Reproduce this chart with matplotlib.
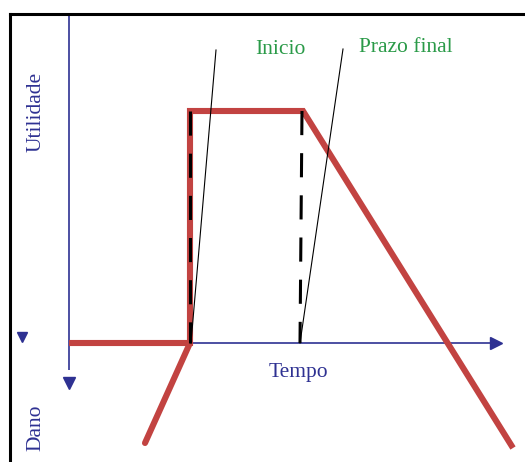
import matplotlib
matplotlib.use("Agg")
from matplotlib import pyplot as plt
from matplotlib.lines import Line2D

# schematic values (time, utility) with origin where the axes cross
curve_t = [0, 121, 121, 234, 444]
curve_u = [0, 0, 232, 232, -105]
damage_t = [121, 76]
damage_u = [0, -100]

start_t = [121, 121]
start_u = [232, 0]
deadline_t = [233, 231]
deadline_u = [232, 0]

inicio_ptr_t = [147, 122]
inicio_ptr_u = [293, 0]
prazo_ptr_t = [274, 231]
prazo_ptr_u = [294, 0]

labels = {"inicio": "Inicio", "prazo": "Prazo final", "tempo": "Tempo",
          "util": "Utilidade", "dano": "Dano"}

RED = "#c24341"
NAVY = "#2e3192"
GREEN = "#2a9a48"

fig = plt.figure(figsize=(5.25, 4.62), dpi=100)
ax = fig.add_axes([0, 0, 1, 1])
ax.set_xlim(-69, 456)
ax.set_ylim(-119, 343)
ax.axis("off")

font = dict(family=["Liberation Serif", "DejaVu Serif"], fontsize=15.5)

# frame (only left and top edges visible)
fig.add_artist(Line2D([10 / 525, 10 / 525], [0, 1 - 14 / 462], color="black", lw=2.2))
fig.add_artist(Line2D([10 / 525, 1], [1 - 14 / 462, 1 - 14 / 462], color="black", lw=2.2))

# axes
ax.plot([0, 0], [328, -27], color=NAVY, lw=1.2, solid_capstyle="butt")
ax.plot([0], [-40], marker="v", color=NAVY, ms=8)
ax.plot([0, 426], [0, 0], color=NAVY, lw=1.2, solid_capstyle="butt")
ax.plot([427], [0], marker=">", color=NAVY, ms=8)
ax.plot([-47], [6], marker="v", color=NAVY, ms=7)

# utility curve
ax.plot(curve_t, curve_u, color=RED, lw=4.4, solid_joinstyle="miter",
        solid_capstyle="butt", zorder=3)
ax.plot(damage_t, damage_u, color=RED, lw=4.4, solid_capstyle="round", zorder=3)

# dashed markers for start and deadline
dash = (0, (7.9, 5.9))
ax.plot(start_t, start_u, color="black", lw=2.2, ls=dash, zorder=4)
ax.plot(deadline_t, deadline_u, color="black", lw=2.2, ls=dash, zorder=4)

# pointer lines
ax.plot(inicio_ptr_t, inicio_ptr_u, color="black", lw=0.8, zorder=5)
ax.plot(prazo_ptr_t, prazo_ptr_u, color="black", lw=0.8, zorder=5)

# text
ax.text(211, 293, labels["inicio"], color=GREEN, ha="center", va="center", **font)
ax.text(337, 295, labels["prazo"], color=GREEN, ha="center", va="center", **font)
ax.text(229, -30, labels["tempo"], color=NAVY, ha="center", va="center", **font)
ax.text(-33, 231, labels["util"], color=NAVY, ha="center", va="center", rotation=90, **font)
ax.text(-33, -85, labels["dano"], color=NAVY, ha="center", va="center", rotation=90, **font)

fig.savefig("out.png", dpi=100)
